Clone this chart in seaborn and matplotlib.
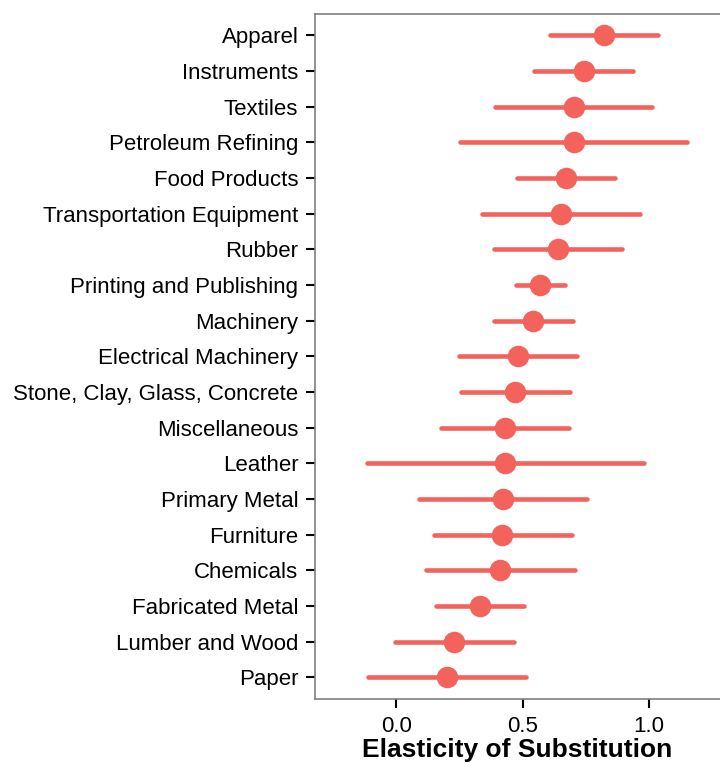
import pandas as pd
import seaborn as sb
import matplotlib.pyplot as plt

industries = ["Apparel", "Instruments", "Textiles", "Petroleum Refining",
              "Food Products", "Transportation Equipment", "Rubber",
              "Printing and Publishing", "Machinery", "Electrical Machinery",
              "Stone, Clay, Glass, Concrete", "Miscellaneous", "Leather",
              "Primary Metal", "Furniture", "Chemicals", "Fabricated Metal",
              "Lumber and Wood", "Paper"]
estimate = [0.820, 0.741, 0.701, 0.701, 0.671, 0.651, 0.640, 0.570, 0.540,
            0.480, 0.471, 0.430, 0.430, 0.422, 0.418, 0.410, 0.331, 0.229, 0.202]
lower = [0.606, 0.546, 0.389, 0.251, 0.476, 0.339, 0.388, 0.475, 0.386,
         0.247, 0.257, 0.177, -0.116, 0.089, 0.148, 0.118, 0.156, -0.003, -0.111]
upper = [1.036, 0.937, 1.013, 1.151, 0.865, 0.964, 0.894, 0.669, 0.698,
         0.716, 0.687, 0.685, 0.979, 0.753, 0.694, 0.705, 0.507, 0.466, 0.515]

# three rows per industry: median = estimate, min/max = interval ends
rows = []
for name, lo, est, hi in zip(industries, lower, estimate, upper):
    for v in (lo, est, hi):
        rows.append({"industry": name, "elasticity": v})
df = pd.DataFrame(rows)

sb.set_style("white")
plt.rcParams["font.family"] = ["Liberation Sans", "DejaVu Sans"]
plt.rcParams["text.color"] = "black"
plt.rcParams["xtick.color"] = "black"
plt.rcParams["ytick.color"] = "black"
plt.rcParams["axes.labelcolor"] = "black"

fig = plt.figure(figsize=(7.2, 7.63), dpi=100)
ax = fig.add_axes([0.4375, 0.084, 0.5625, 0.898])

red = "#F4625C"
sb.pointplot(data=df, x="elasticity", y="industry", order=industries,
             estimator="median", errorbar=("pi", 100), linestyle="none",
             color=red, markersize=13.5, err_kws={"linewidth": 3.3},
             ax=ax)

ax.set_xlim(-0.321, 1.28)
ax.set_ylim(18.6, -0.6)
ax.set_xticks([0.0, 0.5, 1.0])
ax.set_xticklabels(["0.0", "0.5", "1.0"])
ax.set_xlabel("Elasticity of Substitution", fontsize=19, fontweight="bold",
              labelpad=1)
ax.set_ylabel("")
ax.tick_params(axis="both", labelsize=16, length=6.5, width=1.5,
               left=True, bottom=True, pad=5.5)
for s in ["left", "bottom", "top"]:
    ax.spines[s].set_color("#7F7F7F")
    ax.spines[s].set_linewidth(1.2)
ax.spines["right"].set_visible(False)

fig.savefig("out.png", dpi=100)
